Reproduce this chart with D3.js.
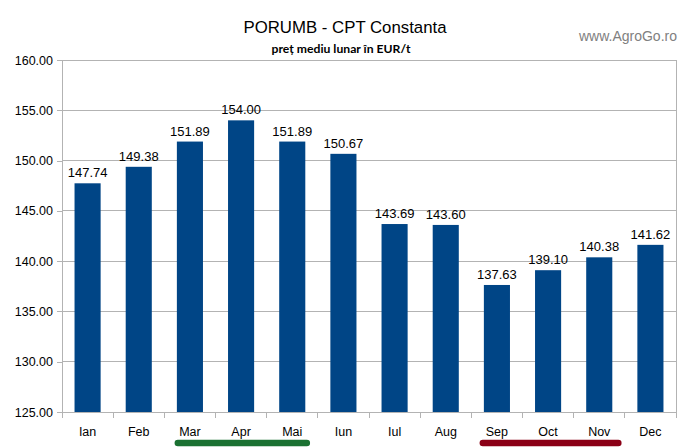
<!DOCTYPE html>
<html><head><meta charset="utf-8">
<script src="https://cdn.jsdelivr.net/npm/d3@7"></script>
<style>body{margin:0;background:#fff}svg{display:block}</style>
</head><body>
<script>
const months = ["Ian","Feb","Mar","Apr","Mai","Iun","Iul","Aug","Sep","Oct","Nov","Dec"];
const prices = [147.74,149.38,151.89,154.00,151.89,150.67,143.69,143.60,137.63,139.10,140.38,141.62];
const yTicks = [125,130,135,140,145,150,155,160];
const titleText = "PORUMB - CPT Constanta";
const subtitleText = "preț mediu lunar în EUR/t";
const watermark = "www.AgroGo.ro";
const highlightRanges = [["Mar","Mai"],["Sep","Nov"]];
const highlightColors = ["#1b7132","#8b0016"];

// styling (offsets of the underline ends inside their outer bands)
const underlineInset = [[13.5,11],[11.5,6.5]];

const W = 692, H = 447;
const m = {left:62, right:16, top:60, bottom:35};
const svg = d3.select("body").append("svg").attr("width",W).attr("height",H);

const x = d3.scaleBand().domain(months).range([m.left, W-m.right]).paddingInner(0.49).paddingOuter(0.245);
const xb = d3.scaleBand().domain(months).range([m.left, W-m.right]);
const y = d3.scaleLinear().domain([125,160]).range([H-m.bottom, m.top]);

const font = "'Liberation Sans', Arial, sans-serif";

// gridlines
svg.append("g").selectAll("line").data(yTicks).join("line")
  .attr("x1", m.left).attr("x2", W-m.right)
  .attr("y1", d=>y(d)).attr("y2", d=>y(d))
  .attr("stroke","#b3b3b3").attr("stroke-width",1).attr("shape-rendering","crispEdges");
// right border
svg.append("line").attr("x1",W-m.right).attr("x2",W-m.right).attr("y1",y(160)).attr("y2",y(125))
  .attr("stroke","#b3b3b3").attr("shape-rendering","crispEdges");

// bars
svg.append("g").selectAll("rect").data(prices).join("rect")
  .attr("x",(d,i)=>x(months[i])).attr("width",x.bandwidth())
  .attr("y",d=>y(d)).attr("height",d=>y(125)-y(d))
  .attr("fill","#004586");

// value labels
svg.append("g").selectAll("text").data(prices).join("text")
  .attr("x",(d,i)=>x(months[i])+x.bandwidth()/2).attr("y",d=>y(d)-6)
  .attr("text-anchor","middle").attr("font-family",font).attr("font-size",13).attr("fill","#000")
  .text(d=>d.toFixed(2));

// y axis
const yAxis = d3.axisLeft(y).tickValues(yTicks).tickFormat(d3.format(".2f")).tickSize(5).tickPadding(4);
const gy = svg.append("g").attr("transform",`translate(${m.left},0)`).call(yAxis);
gy.select(".domain").attr("stroke","#b3b3b3");
gy.selectAll(".tick line").attr("stroke","#b3b3b3");
gy.selectAll("text").attr("font-family",font).attr("font-size",12.5).attr("fill","#000");
gy.attr("shape-rendering","crispEdges");

// x axis
const gx = svg.append("g").attr("transform",`translate(0,${H-m.bottom})`);
gx.append("line").attr("x1",m.left).attr("x2",W-m.right).attr("stroke","#b3b3b3").attr("shape-rendering","crispEdges");
const bounds = months.map(mo=>xb(mo)).concat([W-m.right]);
gx.selectAll("line.tk").data(bounds).join("line").attr("class","tk")
  .attr("x1",d=>d).attr("x2",d=>d).attr("y1",0).attr("y2",6)
  .attr("stroke","#b3b3b3").attr("shape-rendering","crispEdges");
gx.selectAll("text").data(months).join("text")
  .attr("x",d=>xb(d)+xb.bandwidth()/2).attr("y",23.5)
  .attr("text-anchor","middle").attr("font-family",font).attr("font-size",12.5).attr("fill","#000")
  .text(d=>d);

// highlight underlines
svg.append("g").selectAll("line").data(highlightRanges).join("line")
  .attr("x1",(d,i)=>xb(d[0])+underlineInset[i][0])
  .attr("x2",(d,i)=>xb(d[1])+xb.bandwidth()-underlineInset[i][1])
  .attr("y1",H-4).attr("y2",H-4)
  .attr("stroke",(d,i)=>highlightColors[i]).attr("stroke-width",6.5).attr("stroke-linecap","round");

// titles
svg.append("text").attr("x",345).attr("y",33).attr("text-anchor","middle")
  .attr("font-family",font).attr("font-size",16.8).attr("fill","#000").text(titleText);
svg.append("text").attr("x",341).attr("y",53).attr("text-anchor","middle")
  .attr("font-family","Lato, 'Open Sans', sans-serif").attr("font-weight","bold").attr("font-size",12.2).attr("fill","#000").text(subtitleText);
svg.append("text").attr("x",677).attr("y",41).attr("text-anchor","end")
  .attr("font-family",font).attr("font-size",14).attr("fill","#808080").text(watermark);
</script>
</body></html>
